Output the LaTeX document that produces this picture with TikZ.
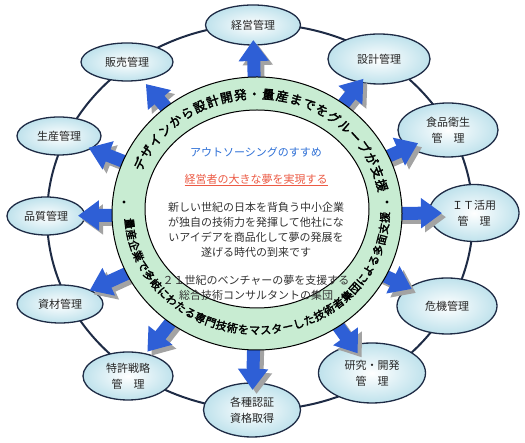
\documentclass[tikz,border=0pt]{standalone}
\usepackage{fontspec}
\usepackage{tikz}
\usetikzlibrary{shapes.geometric,arrows.meta,calc,decorations.text}
\newfontfamily\jp{Noto Sans CJK JP}
\newfontfamily\jpheavy{Noto Sans CJK JP}[FakeBold=2.5]
\definecolor{ocNavy}{HTML}{1E2B45}
\definecolor{ocBlue}{HTML}{2E5FD6}
\definecolor{ocShadow}{HTML}{A3A3A3}
\definecolor{ocMint}{HTML}{C8ECD2}
\definecolor{ocSky}{HTML}{BFE2EC}
\definecolor{ocTitle}{HTML}{2D6FD6}
\definecolor{ocRed}{HTML}{EC5A44}
\definecolor{ocInk}{HTML}{333333}
\tikzset{
  sat/.style={ellipse,draw=ocNavy,line width=1.3pt,inner color=white,outer color=ocSky,
    align=center,font=\jp\fontsize{11pt}{16pt}\selectfont,text=black!85},
  flow/.style={draw=ocBlue,line width=13pt,-{Triangle[length=21pt,width=29pt]}},
  flowshade/.style={flow,draw=ocShadow,transform canvas={xshift=4pt,yshift=-4pt}},
  ringline/.style={draw=black,line width=1pt},
  body/.style={font=\jp\fontsize{11pt}{15pt}\selectfont,text=ocInk,align=center}
}
\begin{document}
\begin{tikzpicture}[x=1pt,y=1pt]
\useasboundingbox (0,0) rectangle (525,443);
% outer loop behind the satellites
\draw[ocNavy,line width=2pt] (260,226) ellipse (213 and 193);
\node[sat,minimum width=95pt,minimum height=40pt] (keiei) at (253,418) {経営管理};
\node[sat,minimum width=92pt,minimum height=38pt] (hanbai) at (127,381) {販売管理};
\node[sat,minimum width=102pt,minimum height=50pt] (sekkei) at (379,384) {設計管理};
\node[sat,minimum width=100pt,minimum height=54pt] (shokuhin) at (448,313) {食品衛生\\管　理};
\node[sat,minimum width=90pt,minimum height=57pt] (it) at (474,230) {ＩＴ活用\\管　理};
\node[sat,minimum width=100pt,minimum height=56pt] (kiki) at (447,137) {危機管理};
\node[sat,minimum width=107pt,minimum height=60pt] (kenkyu) at (372,70) {研究・開発\\管　理};
\node[sat,minimum width=97pt,minimum height=54pt] (ninsho) at (252,33) {各種認証\\資格取得};
\node[sat,minimum width=90pt,minimum height=48pt] (tokkyo) at (128,67) {特許戦略\\管　理};
\node[sat,minimum width=86pt,minimum height=38pt] (shizai) at (60,139) {資材管理};
\node[sat,minimum width=78pt,minimum height=38pt] (hinshitsu) at (46,227) {品質管理};
\node[sat,minimum width=84pt,minimum height=38pt] (seisan) at (59,307) {生産管理};
% arrows out of the ring
\coordinate (hub) at (257,229);
\foreach \n/\d in {keiei/174,hanbai/171,sekkei/172,shokuhin/176,it/185,kiki/172,kenkyu/172,ninsho/176,tokkyo/176,shizai/184,hinshitsu/179,seisan/181}{
  \draw[flowshade] ($(hub)!125pt!(\n)$) -- ($(hub)!\d pt!(\n)$);
  \draw[flow] ($(hub)!125pt!(\n)$) -- ($(hub)!\d pt!(\n)$);
}
% ring
\draw[ringline,fill=ocMint] (257,229.5) ellipse (145 and 136.5);
\draw[ringline,fill=white] (257,234) ellipse (112 and 99);
\coordinate (ringmid) at (257,231);
\path[decorate,decoration={text along path,text align=fit to path,raise=-4.7pt,
  text={|\jpheavy\fontsize{12.5pt}{12.5pt}\selectfont|デザインから設計開発・量産までをグループが支援}}]
  (ringmid) ++(159:128 and 118) arc[start angle=159,end angle=10,x radius=128,y radius=118];
\path[decorate,decoration={text along path,text align=fit to path,raise=-4.2pt,
  text={|\jpheavy\fontsize{11pt}{11pt}\selectfont|量産企業で多岐にわたる専門技術をマスターした技術者集団による多面支援}}]
  (ringmid) ++(183:128 and 118) arc[start angle=183,end angle=360,x radius=128,y radius=118];
\fill (124,241) circle (1.6);
\fill (387,241) circle (1.6);
% centre text
\node[body,text=ocTitle] (title) at (256,291) {アウトソーシングのすすめ};
\node[body,text=ocRed] (motto) at (256,263) {\underline{経営者の大きな夢を実現する}};
\node[body] (para) at (256,213) {新しい世紀の日本を背負う中小企業\\が独自の技術力を発揮して他社にな\\いアイデアを商品化して夢の発展を\\遂げる時代の到来です};
\node[body] (group) at (256,155) {２１世紀のベンチャーの夢を支援する\\総合技術コンサルタントの集団};
\end{tikzpicture}
\end{document}
